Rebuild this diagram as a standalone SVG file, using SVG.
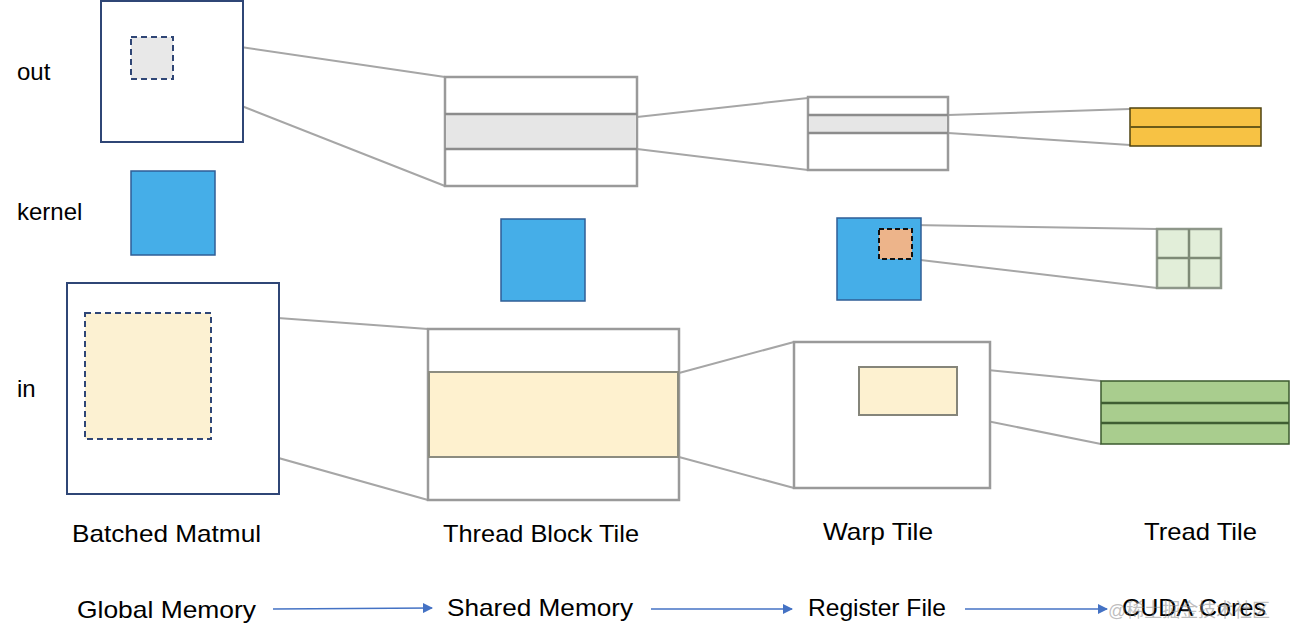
<svg xmlns="http://www.w3.org/2000/svg" width="1290" height="644" viewBox="0 0 1290 644">
<defs>
<marker id="ah" viewBox="0 0 10 10" refX="9" refY="5" markerWidth="10" markerHeight="10" markerUnits="userSpaceOnUse" orient="auto"><path d="M0,0 L10,5 L0,10 Z" fill="#4472C4"/></marker>
<style>
.lbl{font-family:"Liberation Sans","Noto Sans",Arial,sans-serif;font-size:24px;fill:#000}
.navy{fill:#fff;stroke:#2F4676;stroke-width:2}
.dash{stroke:#2F4676;stroke-width:2;stroke-dasharray:6,4}
.gbox{fill:#fff;stroke:#9A9A9A;stroke-width:2.5}
.gline{stroke:#8C8C8C;stroke-width:2.5}
.conn{stroke:#A6A6A6;stroke-width:2;fill:none}
.arr{stroke:#4472C4;stroke-width:1.5;fill:none;marker-end:url(#ah)}
.blue{fill:#45AEE8;stroke:#2F5E96;stroke-width:1.5}
</style>
</defs>
<rect width="1290" height="644" fill="#fff"/>
<g id="connectors">
<line class="conn" x1="173" y1="37" x2="445" y2="77"/>
<line class="conn" x1="173" y1="79" x2="445" y2="186"/>
<line class="conn" x1="637" y1="117" x2="808" y2="98"/>
<line class="conn" x1="637" y1="149" x2="808" y2="170"/>
<line class="conn" x1="948" y1="115" x2="1130" y2="109"/>
<line class="conn" x1="948" y1="133" x2="1130" y2="145"/>
<line class="conn" x1="912" y1="225" x2="1157" y2="229"/>
<line class="conn" x1="912" y1="259" x2="1157" y2="288"/>
<line class="conn" x1="211" y1="313" x2="428" y2="329"/>
<line class="conn" x1="211" y1="439" x2="428" y2="500"/>
<line class="conn" x1="679" y1="373" x2="794" y2="342"/>
<line class="conn" x1="679" y1="457" x2="794" y2="488"/>
<line class="conn" x1="957" y1="367" x2="1101" y2="381"/>
<line class="conn" x1="957" y1="415" x2="1101" y2="444"/>
<line class="arr" x1="273" y1="609" x2="432" y2="608"/>
<line class="arr" x1="651" y1="609" x2="792" y2="609"/>
<line class="arr" x1="965" y1="609" x2="1107" y2="609"/>
</g>
<g id="row-labels">
<text class="lbl" x="17" y="80">out</text>
<text class="lbl" x="17" y="220">kernel</text>
<text class="lbl" x="17" y="397">in</text>
</g>
<g id="global-out">
<rect class="navy" x="101" y="1" width="142" height="141"/>
<rect class="dash" x="131" y="37" width="42" height="42" fill="#E8E8E8"/>
</g>
<g id="global-kernel">
<rect class="blue" x="131" y="171" width="84" height="84"/>
</g>
<g id="global-in">
<rect class="navy" x="67" y="283" width="212" height="211"/>
<rect class="dash" x="85" y="313" width="126" height="126" fill="#FCF1D2"/>
</g>
<g id="block-out">
<rect class="gbox" x="445" y="77" width="192" height="109"/>
<rect x="446" y="114" width="190" height="35" fill="#E6E6E6"/>
<line class="gline" x1="445" y1="114" x2="637" y2="114"/>
<line class="gline" x1="445" y1="149" x2="637" y2="149"/>
</g>
<g id="block-kernel">
<rect class="blue" x="501" y="219" width="84" height="82"/>
</g>
<g id="block-in">
<rect class="gbox" x="428" y="329" width="251" height="171"/>
<rect x="429" y="372" width="249" height="85" fill="#FEF1CF" stroke="#8C8C80" stroke-width="2"/>
</g>
<g id="warp-out">
<rect class="gbox" x="808" y="97" width="140" height="73"/>
<rect x="809" y="115" width="138" height="18" fill="#E6E6E6"/>
<line class="gline" x1="808" y1="115" x2="948" y2="115"/>
<line class="gline" x1="808" y1="133" x2="948" y2="133"/>
</g>
<g id="warp-kernel">
<rect class="blue" x="837" y="218" width="84" height="82" stroke="#2E4A7A"/>
<rect x="879" y="229" width="33" height="30" fill="#EDB48A" stroke="#111" stroke-width="2" stroke-dasharray="5,3"/>
</g>
<g id="warp-in">
<rect class="gbox" x="794" y="342" width="196" height="146"/>
<rect x="859" y="367" width="98" height="48" fill="#FDF1D0" stroke="#85857A" stroke-width="2"/>
</g>
<g id="thread-out">
<rect x="1130" y="108" width="131" height="38" fill="#F7C244" stroke="#4F4310" stroke-width="1.5"/>
<line x1="1130" y1="127" x2="1261" y2="127" stroke="#6B5A18" stroke-width="2"/>
</g>
<g id="thread-kernel">
<rect x="1157" y="229" width="64" height="59" fill="#E2EED9" stroke="#8E978A" stroke-width="2.5"/>
<line x1="1189" y1="229" x2="1189" y2="288" stroke="#7E8A76" stroke-width="2.5"/>
<line x1="1157" y1="258" x2="1221" y2="258" stroke="#7E8A76" stroke-width="2.5"/>
</g>
<g id="thread-in">
<rect x="1101" y="381" width="188" height="63" fill="#A9CD8E" stroke="#3B5A2E" stroke-width="1.5"/>
<line x1="1101" y1="403" x2="1289" y2="403" stroke="#3F5E32" stroke-width="2.5"/>
<line x1="1101" y1="423" x2="1289" y2="423" stroke="#3F5E32" stroke-width="2.5"/>
</g>
<g id="column-labels">
<text class="lbl" x="72" y="542" textLength="189" lengthAdjust="spacingAndGlyphs">Batched Matmul</text>
<text class="lbl" x="443" y="542" textLength="196" lengthAdjust="spacingAndGlyphs">Thread Block Tile</text>
<text class="lbl" x="823" y="540" textLength="110" lengthAdjust="spacingAndGlyphs">Warp Tile</text>
<text class="lbl" x="1144" y="540" textLength="113" lengthAdjust="spacingAndGlyphs">Tread Tile</text>
</g>
<g id="memory-labels">
<text class="lbl" x="77" y="618" textLength="179" lengthAdjust="spacingAndGlyphs">Global Memory</text>
<text class="lbl" x="447" y="616" textLength="186" lengthAdjust="spacingAndGlyphs">Shared Memory</text>
<text class="lbl" x="808" y="616" textLength="138" lengthAdjust="spacingAndGlyphs">Register File</text>
<text class="lbl" x="1122" y="616" textLength="144" lengthAdjust="spacingAndGlyphs">CUDA Cores</text>
<text x="1108" y="617" font-family="'Liberation Sans','Noto Sans CJK SC',sans-serif" font-size="19" fill="#888" fill-opacity="0.55" textLength="162" lengthAdjust="spacingAndGlyphs">@稀土掘金技术社区</text>
</g>
</svg>
